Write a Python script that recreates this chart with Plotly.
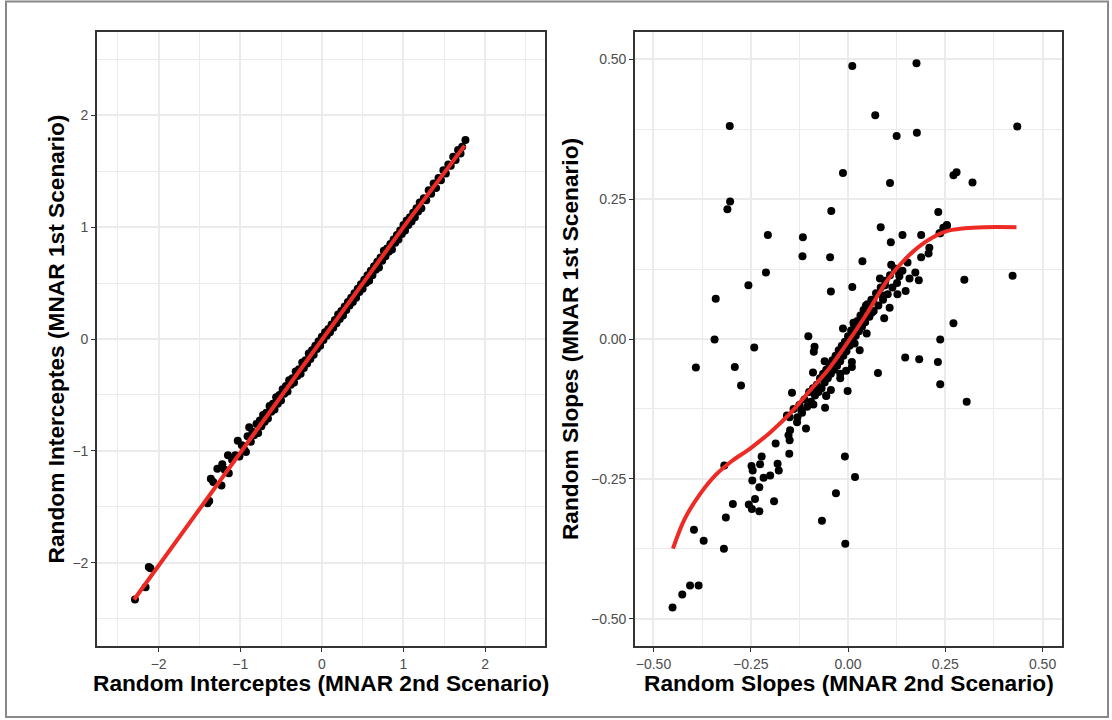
import plotly.graph_objects as go

# ---------------- Left panel data: random intercepts ----------------
int_x = [-2.29, -2.16, -2.12, -2.10,
         -1.40, -1.38, -1.36, -1.33, -1.28, -1.23, -1.22, -1.19, -1.15, -1.14, -1.10, -1.06,
         -1.03, -1.01, -0.98, -0.95, -0.93, -0.91, -0.89, -0.87, -0.85, -0.83, -0.80, -0.78,
         -0.76, -0.74, -0.72, -0.70, -0.68, -0.66, -0.64, -0.62, -0.60, -0.58, -0.56, -0.54,
         -0.52, -0.50, -0.48, -0.46, -0.44, -0.42, -0.40, -0.38, -0.36, -0.34, -0.32, -0.30,
         -0.28, -0.26, -0.24, -0.22, -0.20, -0.18, -0.16, -0.14, -0.12, -0.10, -0.08, -0.06,
         -0.04, -0.02, 0.00, 0.02, 0.04, 0.06, 0.08, 0.10, 0.12, 0.14, 0.16, 0.18, 0.20, 0.22,
         0.24, 0.26, 0.28, 0.30, 0.32, 0.34, 0.36, 0.38, 0.40, 0.42, 0.44, 0.46, 0.48, 0.50,
         0.52, 0.54, 0.56, 0.58, 0.60, 0.62, 0.64, 0.66, 0.68, 0.70, 0.72, 0.74, 0.76, 0.78,
         0.80, 0.82, 0.84, 0.86, 0.88, 0.90, 0.92, 0.94, 0.96, 0.98, 1.00, 1.02, 1.04, 1.06,
         1.08, 1.10, 1.12, 1.14, 1.16, 1.18, 1.20, 1.22, 1.25, 1.28, 1.31, 1.34, 1.37, 1.40,
         1.43, 1.46, 1.49, 1.52, 1.55, 1.58, 1.61, 1.64, 1.67, 1.70, 1.72, 1.76]
int_y = [-2.33, -2.22, -2.04, -2.05,
         -1.47, -1.45, -1.25, -1.28, -1.16, -1.31, -1.12, -1.17, -1.04, -1.20, -1.08, -1.04,
         -0.91, -1.05, -0.95, -0.99, -1.01, -0.87, -0.79, -0.92, -0.83, -0.86, -0.76, -0.84,
         -0.73, -0.78, -0.68, -0.74, -0.66, -0.71, -0.60, -0.65, -0.58, -0.63, -0.52, -0.58,
         -0.50, -0.55, -0.45, -0.49, -0.42, -0.47, -0.37, -0.41, -0.35, -0.39, -0.29, -0.33,
         -0.27, -0.31, -0.21, -0.26, -0.19, -0.22, -0.13, -0.18, -0.10, -0.14, -0.06, -0.09,
         -0.02, -0.06, 0.02, -0.01, 0.06, 0.03, 0.09, 0.06, 0.13, 0.10, 0.17, 0.14, 0.22, 0.18,
         0.25, 0.21, 0.29, 0.26, 0.33, 0.30, 0.37, 0.33, 0.41, 0.37, 0.45, 0.42, 0.49, 0.45,
         0.53, 0.50, 0.57, 0.52, 0.61, 0.57, 0.65, 0.62, 0.69, 0.64, 0.73, 0.70, 0.79, 0.74,
         0.81, 0.78, 0.85, 0.80, 0.89, 0.86, 0.93, 0.89, 0.97, 0.94, 1.02, 0.97, 1.06, 1.02,
         1.09, 1.05, 1.13, 1.09, 1.17, 1.14, 1.22, 1.17, 1.26, 1.24, 1.33, 1.30, 1.39, 1.35,
         1.44, 1.42, 1.51, 1.48, 1.56, 1.55, 1.63, 1.60, 1.69, 1.66, 1.72, 1.78]
int_fit_x = [-2.30, -1.50, -1.00, 0.00, 1.00, 1.75]
int_fit_y = [-2.33, -1.52, -1.01, 0.00, 1.00, 1.73]

# ---------------- Right panel data: random slopes ----------------
slp_x = [0.011, 0.176, -0.304, 0.070, 0.125, 0.177, 0.435, -0.013, 0.108, 0.271, 0.279, 0.320,
         -0.303, -0.310, -0.043, 0.232, -0.206, -0.116, 0.084, 0.140, 0.188, 0.254, 0.245, 0.235,
         -0.211, -0.117, -0.046, 0.037, 0.110, -0.256, -0.340, -0.044, 0.011, -0.343, -0.391,
         -0.291, -0.241, -0.275, 0.299, 0.423, 0.271, 0.237, 0.147, 0.183, 0.231, 0.237, 0.077,
         -0.102, -0.086, -0.088, -0.144, -0.001, 0.305,
         0.131, 0.148, 0.127, 0.107, 0.093, 0.173, 0.182, 0.158, 0.153, 0.111, 0.209, 0.188,
         0.207, 0.254, 0.237, 0.082, 0.095, 0.089, 0.065, 0.046, 0.061, 0.048, 0.014, -0.013,
         0.017, 0.010, -0.005, -0.020, -0.044, -0.056,
         -0.056, -0.059, -0.089, -0.120, -0.108, -0.157, -0.131, -0.149, -0.153, -0.150, -0.186,
         -0.151, -0.222, -0.248, -0.226, -0.181, -0.245, -0.178, -0.200, -0.217, -0.246, -0.228,
         -0.318, -0.296, -0.255, -0.239, -0.247, -0.228, -0.190, -0.314, -0.396, -0.371, -0.319,
         -0.406, -0.384, -0.426, -0.451, -0.008, 0.018, -0.031, -0.067, -0.007,
         -0.130, -0.125, -0.118, -0.112, -0.105, -0.100, -0.095, -0.090, -0.085, -0.080, -0.076,
         -0.072, -0.068, -0.064, -0.060, -0.056, -0.052, -0.048, -0.044, -0.040, -0.036, -0.032,
         -0.028, -0.024, -0.020, -0.016, -0.012, -0.008, -0.004, 0.000, 0.004, 0.008, 0.012,
         0.016, 0.020, 0.024, 0.028, 0.032, 0.036, 0.040, 0.044, 0.050, 0.055, 0.060, 0.066,
         0.072, 0.078, 0.084, 0.090, 0.096, 0.102, 0.108, 0.114, 0.120, 0.126, 0.132, 0.140,
         -0.140, -0.150, -0.020, 0.010, -0.060, -0.090, 0.030]
slp_y = [0.488, 0.493, 0.381, 0.400, 0.363, 0.369, 0.380, 0.297, 0.279, 0.293, 0.298, 0.280,
         0.246, 0.232, 0.229, 0.227, 0.186, 0.182, 0.200, 0.186, 0.186, 0.204, 0.199, 0.189,
         0.119, 0.148, 0.146, 0.139, 0.173, 0.096, 0.072, 0.085, 0.093, -0.001, -0.051,
         -0.050, -0.015, -0.083, 0.106, 0.113, 0.028, -0.001, -0.033, -0.036, -0.041, -0.081, -0.061,
         0.005, -0.014, -0.023, -0.096, -0.093, -0.112,
         0.118, 0.086, 0.080, 0.056, 0.037, 0.119, 0.105, 0.108, 0.137, 0.133, 0.163, 0.146,
         0.153, 0.202, 0.189, 0.108, 0.096, 0.078, 0.069, 0.060, 0.047, 0.010, 0.029, 0.019,
         -0.008, -0.041, -0.057, -0.062, -0.091, -0.101,
         -0.102, -0.123, -0.117, -0.128, -0.160, -0.137, -0.149, -0.163, -0.172, -0.181, -0.187,
         -0.205, -0.210, -0.227, -0.224, -0.223, -0.235, -0.235, -0.244, -0.248, -0.253, -0.265,
         -0.226, -0.295, -0.296, -0.286, -0.304, -0.308, -0.290, -0.319, -0.341, -0.361, -0.375,
         -0.441, -0.441, -0.457, -0.480, -0.210, -0.247, -0.276, -0.325, -0.366,
         -0.140, -0.118, -0.132, -0.108, -0.121, -0.095, -0.112, -0.088, -0.101, -0.082, -0.095,
         -0.070, -0.088, -0.062, -0.078, -0.055, -0.070, -0.045, -0.062, -0.038, -0.055, -0.030,
         -0.048, -0.020, -0.040, -0.012, -0.030, -0.005, -0.022, 0.005, -0.012, 0.015, -0.004,
         0.024, 0.006, 0.032, 0.014, 0.042, 0.022, 0.052, 0.030, 0.062, 0.040, 0.070, 0.050,
         0.082, 0.060, 0.092, 0.070, 0.104, 0.080, 0.114, 0.092, 0.126, 0.100, 0.112, 0.122,
         -0.125, -0.140, -0.070, -0.050, -0.040, -0.060, -0.020]
slp_fit_x = [-0.450, -0.420, -0.380, -0.340, -0.300, -0.250, -0.200, -0.150, -0.100, -0.050,
             0.000, 0.050, 0.100, 0.150, 0.200, 0.250, 0.300, 0.350, 0.433]
slp_fit_y = [-0.375, -0.322, -0.277, -0.243, -0.219, -0.195, -0.167, -0.134, -0.094, -0.054,
             -0.005, 0.047, 0.104, 0.145, 0.174, 0.192, 0.198, 0.200, 0.200]

# ---------------- Tick labels and titles ----------------
int_ticks = [-2, -1, 0, 1, 2]
slp_ticks = [-0.50, -0.25, 0.00, 0.25, 0.50]
int_xtitle = "Random Interceptes (MNAR 2nd Scenario)"
int_ytitle = "Random Interceptes (MNAR 1st Scenario)"
slp_xtitle = "Random Slopes (MNAR 2nd Scenario)"
slp_ytitle = "Random Slopes (MNAR 1st Scenario)"

W, H = 1112, 720
POINT = "#000000"
FIT = "#EE2A24"
GRID = "#EBEBEB"
FRAME = "#333333"
TICKTXT = "#4D4D4D"
FONT = "Liberation Sans, Arial, Helvetica, sans-serif"
TITLE_FONT = dict(family=FONT, size=22.7, color="#000000")

fig = go.Figure()
fig.add_trace(go.Scatter(x=int_x, y=int_y, mode="markers", xaxis="x", yaxis="y",
                         marker=dict(color=POINT, size=8), showlegend=False, hoverinfo="x+y"))
fig.add_trace(go.Scatter(x=int_fit_x, y=int_fit_y, mode="lines", xaxis="x", yaxis="y",
                         line=dict(color=FIT, width=4), showlegend=False))
fig.add_trace(go.Scatter(x=slp_x, y=slp_y, mode="markers", xaxis="x2", yaxis="y2",
                         marker=dict(color=POINT, size=8), showlegend=False, hoverinfo="x+y"))
fig.add_trace(go.Scatter(x=slp_fit_x, y=slp_fit_y, mode="lines", xaxis="x2", yaxis="y2",
                         line=dict(color=FIT, width=4, shape="spline", smoothing=1.0),
                         showlegend=False))


def axis(domain, rng, ticks, minor_dt, fmt, anchor, title=None, standoff=0):
    d = dict(
        domain=domain, range=rng, anchor=anchor,
        tickmode="array", tickvals=ticks, tickformat=fmt,
        showgrid=True, gridcolor=GRID, gridwidth=1.6,
        minor=dict(dtick=minor_dt, tick0=0, showgrid=True, gridcolor=GRID, gridwidth=0.9),
        zeroline=False,
        showline=True, mirror=True, linecolor=FRAME, linewidth=1.6,
        ticks="outside", ticklen=4, tickwidth=1.1, tickcolor=FRAME,
        tickfont=dict(family=FONT, size=14, color=TICKTXT),
        automargin=False,
    )
    if title:
        d["title"] = dict(text="<b>" + title + "</b>", font=TITLE_FONT, standoff=standoff)
    return d


xdom1 = [97 / W, 545 / W]
xdom2 = [635 / W, 1062 / W]
ydom = [1 - 646 / H, 1 - 32 / H]
fig.update_layout(
    width=W, height=H,
    margin=dict(l=0, r=0, t=0, b=0),
    paper_bgcolor="white", plot_bgcolor="white",
    font=dict(family=FONT),
    xaxis=axis(xdom1, [-2.755, 2.735], int_ticks, 0.5, "d", "y"),
    yaxis=axis(ydom, [-2.746, 2.746], int_ticks, 0.5, "d", "x", int_ytitle, 1),
    xaxis2=axis(xdom2, [-0.5475, 0.55], slp_ticks, 0.125, ".2f", "y2"),
    yaxis2=axis(ydom, [-0.549, 0.549], slp_ticks, 0.125, ".2f", "x2", slp_ytitle, 6),
    annotations=[
        dict(text="<b>" + int_xtitle + "</b>", xref="paper", yref="paper",
             x=(xdom1[0] + xdom1[1]) / 2, y=1 - 683 / H, xanchor="center", yanchor="middle",
             showarrow=False, font=TITLE_FONT),
        dict(text="<b>" + slp_xtitle + "</b>", xref="paper", yref="paper",
             x=(xdom2[0] + xdom2[1]) / 2, y=1 - 683 / H, xanchor="center", yanchor="middle",
             showarrow=False, font=TITLE_FONT),
    ],
    shapes=[dict(type="rect", xref="paper", yref="paper",
                 x0=6 / W, x1=1108 / W, y0=1 - 717 / H, y1=1 - 1.5 / H,
                 line=dict(color="#888888", width=2), fillcolor="rgba(0,0,0,0)",
                 layer="below")],
)

fig.write_html("out.html",
               config={"displayModeBar": False},
               post_script="document.body.style.margin='0px';document.body.style.overflow='hidden';")
